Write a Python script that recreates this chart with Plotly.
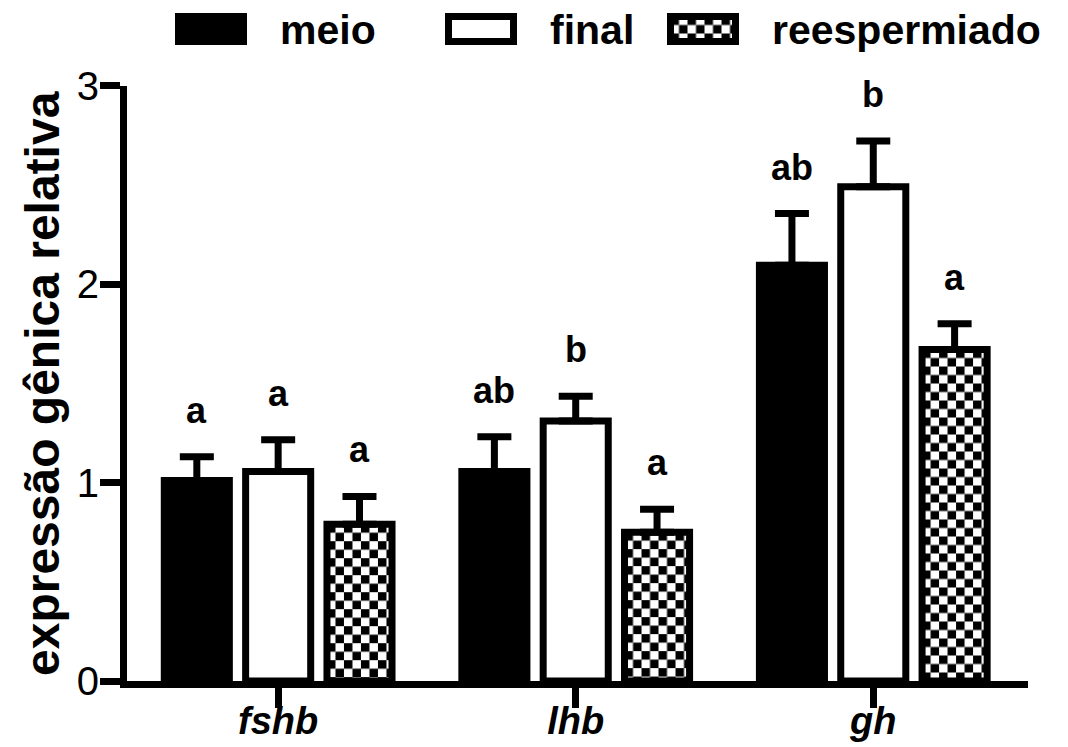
import base64
import plotly.graph_objects as go

# ---------------- data ----------------
categories = ["fshb", "lhb", "gh"]
series_names = ["meio", "final", "reespermiado"]
meio = [1.01, 1.055, 2.095]
meio_err = [0.12, 0.175, 0.26]
final = [1.055, 1.31, 2.49]
final_err = [0.16, 0.125, 0.23]
reesp = [0.79, 0.75, 1.67]
reesp_err = [0.14, 0.115, 0.13]
meio_letters = ["a", "ab", "ab"]
final_letters = ["a", "b", "b"]
reesp_letters = ["a", "a", "a"]
y_ticks = [0, 1, 2, 3]
y_title = "expressão gênica relativa"

# ---------------- layout constants ----------------
W, H = 1068, 747
FONT = "Arial, 'Liberation Sans', sans-serif"
X_PX = (127, 1028)
Y_PX = (681, 85.5)
X_RANGE = [-0.508, 2.52]
Y_RANGE = [0, 3]
BARGAP = 0.18
BARGROUPGAP = 0.2
LW = 7
CELL = 8.5

px_per_x = (X_PX[1] - X_PX[0]) / (X_RANGE[1] - X_RANGE[0])
px_per_y = (Y_PX[0] - Y_PX[1]) / (Y_RANGE[1] - Y_RANGE[0])
slot = (1 - BARGAP) / 3
barw = slot * (1 - BARGROUPGAP)
xpos = list(range(len(categories)))


def checker_uri(w, h, cell):
    svg = (
        f'<svg xmlns="http://www.w3.org/2000/svg" width="{w:.2f}" height="{h:.2f}" '
        f'viewBox="0 0 {w:.2f} {h:.2f}" preserveAspectRatio="none">'
        f'<defs><pattern id="c" width="{2*cell}" height="{2*cell}" patternUnits="userSpaceOnUse">'
        f'<rect width="{2*cell}" height="{2*cell}" fill="white"/>'
        f'<rect width="{cell}" height="{cell}" fill="black"/>'
        f'<rect x="{cell}" y="{cell}" width="{cell}" height="{cell}" fill="black"/>'
        f'</pattern></defs><rect width="{w:.2f}" height="{h:.2f}" fill="url(#c)"/></svg>'
    )
    return "data:image/svg+xml;base64," + base64.b64encode(svg.encode()).decode()


series = [
    (series_names[0], meio, meio_err, meio_letters, "black"),
    (series_names[1], final, final_err, final_letters, "white"),
    (series_names[2], reesp, reesp_err, reesp_letters, "rgba(0,0,0,0)"),
]

fig = go.Figure()
annotations = []
images = []
for j, (name, vals, errs, letters, fill) in enumerate(series):
    fig.add_trace(go.Bar(
        x=xpos, y=vals, name=name, showlegend=False,
        marker=dict(color=fill, line=dict(color="black", width=LW)),
        error_y=dict(type="data", symmetric=False, array=errs,
                     arrayminus=[0] * len(errs), color="black",
                     thickness=LW, width=17),
    ))
    offs = (j - 1) * slot
    for i, (v, e, lt) in enumerate(zip(vals, errs, letters)):
        annotations.append(dict(
            x=i + offs, y=v + e, xref="x", yref="y", text=f"<b>{lt}</b>",
            showarrow=False, xanchor="center", yanchor="bottom", yshift=24,
            font=dict(family=FONT, size=36, color="black"),
        ))
        if j == 2:
            images.append(dict(
                source=checker_uri(barw * px_per_x, v * px_per_y, CELL),
                xref="x", yref="y", x=i + offs, y=0, xanchor="center",
                yanchor="bottom", sizex=barw, sizey=v, sizing="stretch",
                layer="below",
            ))

# y-axis title
annotations.append(dict(
    x=43 / W, y=1 - 384 / H, xref="paper", yref="paper",
    text=f"<b>{y_title}</b>", textangle=-90, showarrow=False,
    xanchor="center", yanchor="middle",
    font=dict(family=FONT, size=48, color="black"),
))

# custom legend (large keys as in the reference)
shapes = []
leg_keys = [175, 445, 667]
leg_text = [278, 548, 770]
key_w, key_y0, key_y1 = 72, 13, 45
fills = ["black", "white", None]
for k, (kx, tx, nm, fc) in enumerate(zip(leg_keys, leg_text, series_names, fills)):
    x0 = (kx + LW / 2) / W
    x1 = (kx + key_w - LW / 2) / W
    y0 = 1 - (key_y1 - LW / 2) / H
    y1 = 1 - (key_y0 + LW / 2) / H
    if fc is None:
        images.append(dict(
            source=checker_uri(key_w - LW, key_y1 - key_y0 - LW, CELL),
            xref="paper", yref="paper", x=x0, y=y1, xanchor="left",
            yanchor="top", sizex=x1 - x0, sizey=y1 - y0, sizing="stretch",
            layer="below",
        ))
    shapes.append(dict(
        type="rect", xref="paper", yref="paper", x0=x0, x1=x1, y0=y0, y1=y1,
        line=dict(color="black", width=LW),
        fillcolor=fc if fc else "rgba(0,0,0,0)",
    ))
    annotations.append(dict(
        x=tx / W, y=1 - 30 / H, xref="paper", yref="paper",
        text=f"<b>{nm}</b>", showarrow=False, xanchor="left", yanchor="middle",
        font=dict(family=FONT, size=41, color="black"),
    ))

fig.update_layout(
    template="none",
    width=W, height=H, autosize=False,
    margin=dict(l=0, r=0, t=0, b=0, pad=0, autoexpand=False),
    paper_bgcolor="white", plot_bgcolor="white",
    font=dict(family=FONT, color="black"),
    barmode="group", bargap=BARGAP, bargroupgap=BARGROUPGAP,
    annotations=annotations, shapes=shapes, images=images,
    xaxis=dict(
        domain=[X_PX[0] / W, X_PX[1] / W], range=X_RANGE, automargin=False,
        tickvals=xpos, ticktext=[f"<b><i>{c}</i></b>" for c in categories],
        showline=True, linecolor="black", linewidth=LW,
        ticks="outside", ticklen=20, tickwidth=LW, tickcolor="black",
        ticklabelstandoff=-20,
        showgrid=False, zeroline=False,
        tickfont=dict(family=FONT, size=38, color="black"),
    ),
    yaxis=dict(
        domain=[(H - Y_PX[0]) / H, (H - Y_PX[1]) / H], range=Y_RANGE,
        automargin=False,
        tickvals=y_ticks, ticktext=[str(t) for t in y_ticks],
        showline=True, linecolor="black", linewidth=LW,
        ticks="outside", ticklen=20, tickwidth=LW, tickcolor="black",
        ticklabelstandoff=-7,
        showgrid=False, zeroline=False,
        tickfont=dict(family=FONT, size=40, color="black"),
    ),
)

fig.write_html("out.html")
